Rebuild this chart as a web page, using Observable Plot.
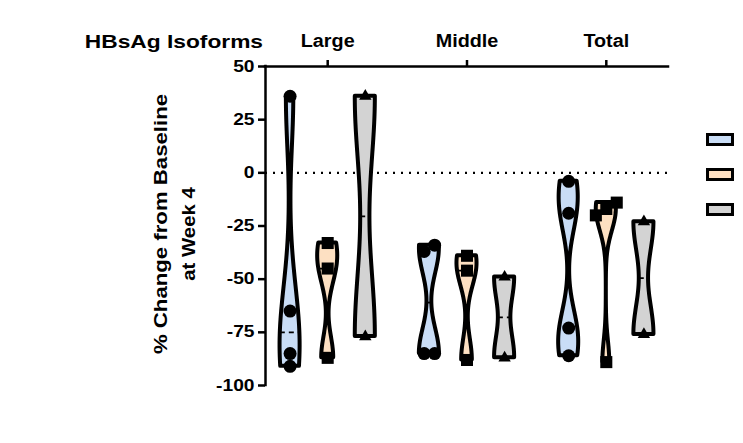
<!DOCTYPE html>
<html><head><meta charset="utf-8">
<script src="https://cdn.jsdelivr.net/npm/d3@7"></script>
<script src="https://cdn.jsdelivr.net/npm/@observablehq/plot@0.6"></script>
<style>
html,body{margin:0;padding:0;background:#fff;}
#wrap{position:relative;width:743px;height:443px;overflow:hidden;}
#overlay{position:absolute;left:0;top:0;pointer-events:none;}
.sw{position:absolute;box-sizing:border-box;border:3px solid #000;width:28px;height:13px;}
</style></head><body><div id="wrap"></div>
<script>
// ---- data ----
const groups = ["Large", "Middle", "Total"];
const largeVals  = [[36, -65, -85, -91], [-33, -45, -87], [36, -77]];
const middleVals = [[-37, -34, -85, -85], [-39, -46, -88], [-49, -87]];
const totalVals  = [[-4, -19, -73, -86], [-14, -17, -20, -89], [-23, -76]];
const bandwidths = [[24, 10, 33], [12, 10, 12.5], [12, 10, 15.5]];
const fills = ["#c9ddf6", "#fde0c2", "#d3d3d3"];
const symbols = ["circle", "square", "triangle"];
const yTicks = [50, 25, 0, -25, -50, -75, -100];
const yDomain = [-100, 50];
const xDomain = [-0.4465, 2.4465];
const yLabel = ["% Change from Baseline", "at Week 4"];
const xTitle = "HBsAg Isoforms";

// ---- layout helpers ----
const seriesStep = 0.27, halfW = 0.072, dodge = 0.075;
const allVals = [largeVals, middleVals, totalVals];
const rows = [], meds = [], pts = [];
allVals.forEach((gv, gi) => gv.forEach((vals, si) => {
  const cx = gi + (si - 1) * seriesStep;
  const h = bandwidths[gi][si];
  const lo = d3.min(vals), hi = d3.max(vals);
  const dens = y => d3.sum(vals, v => Math.exp(-((y - v) ** 2) / (2 * h * h)));
  const N = 150;
  const ys = d3.range(N + 1).map(i => lo + (hi - lo) * i / N);
  const ds = ys.map(dens);
  const m = d3.max(ds);
  ys.forEach((y, i) => rows.push({key: gi + "-" + si, y, x1: cx - halfW * ds[i] / m, x2: cx + halfW * ds[i] / m, fill: fills[si]}));
  const med = d3.median(vals);
  const wm = halfW * dens(med) / m;
  meds.push({y: med, x1: cx - wm, x2: cx + wm});
  const sorted = vals.slice().sort((a, b) => a - b);
  let cluster = [];
  const flush = () => {
    cluster.forEach((v, j) => pts.push({s: si, y: v, x: cx + (j - (cluster.length - 1) / 2) * dodge}));
    cluster = [];
  };
  sorted.forEach(v => {
    if (cluster.length && v - cluster[cluster.length - 1] >= 5) flush();
    cluster.push(v);
  });
  flush();
}));

const font = "'Liberation Sans', Arial, sans-serif";
const chart = Plot.plot({
  width: 743, height: 443,
  marginLeft: 265, marginRight: 75, marginTop: 66, marginBottom: 58,
  style: {fontFamily: font, fontWeight: "bold", color: "black", background: "white", overflow: "visible"},
  x: {domain: xDomain, axis: null},
  y: {domain: yDomain, axis: null},
  color: {type: "identity"},
  marks: [
    Plot.ruleY([0], {stroke: "black", strokeWidth: 2.4, strokeDasharray: "2,6"}),
    Plot.areaX(rows, {y: "y", x1: "x1", x2: "x2", z: "key", fill: "fill", stroke: "black", strokeWidth: 4, strokeLinejoin: "round"}),
    Plot.ruleY(meds, {y: "y", x1: "x1", x2: "x2", stroke: "black", strokeWidth: 1.8, strokeDasharray: "5,4"}),
    Plot.dot(pts.filter(d => d.s === 0), {x: "x", y: "y", symbol: symbols[0], r: 6.5, fill: "black", stroke: null}),
    Plot.dot(pts.filter(d => d.s === 1), {x: "x", y: "y", symbol: symbols[1], r: 6.8, fill: "black", stroke: null}),
    Plot.dot(pts.filter(d => d.s === 2), {x: "x", y: "y", symbol: symbols[2], r: 4.6, fill: "black", stroke: null}),
    Plot.axisY({ticks: yTicks, tickFormat: d => String(d), tickSize: 7, tickPadding: 4, strokeWidth: 2.5, fontSize: 16, fontWeight: "bold", label: null}),
    Plot.axisX({anchor: "top", ticks: [0, 1, 2], tickFormat: i => groups[i], tickSize: 7, tickPadding: 13, strokeWidth: 2.5, fontSize: 18.5, fontWeight: "bold", label: null}),
    Plot.ruleX([xDomain[0]], {stroke: "black", strokeWidth: 2.5, strokeLinecap: "square"}),
    Plot.ruleY([yDomain[1]], {stroke: "black", strokeWidth: 2.5, strokeLinecap: "square"})
  ]
});

// horizontal stretch of text to match reference glyph widths
function stretch(sel, s) {
  chart.querySelectorAll(sel).forEach(t => {
    let x = parseFloat(t.getAttribute("x"));
    if (!isFinite(x) || /em$/.test(t.getAttribute("x") || "")) x = 0;
    const T = t.getAttribute("transform") || "";
    t.setAttribute("transform", `${T} translate(${x},0) scale(${s},1) translate(${-x},0)`);
  });
}
stretch('g[aria-label="y-axis tick label"] text', 1.2);
stretch('g[aria-label="x-axis tick label"] text', 1.07);

const wrap = document.getElementById("wrap");
wrap.appendChild(chart);

// titles overlay
const ns = "http://www.w3.org/2000/svg";
const ov = document.createElementNS(ns, "svg");
ov.setAttribute("id", "overlay");
ov.setAttribute("width", 743); ov.setAttribute("height", 443);
function addText(str, tr, anchor, size) {
  const t = document.createElementNS(ns, "text");
  t.textContent = str;
  t.setAttribute("transform", tr);
  t.setAttribute("text-anchor", anchor);
  t.setAttribute("font-family", font);
  t.setAttribute("font-weight", "bold");
  t.setAttribute("font-size", size);
  t.setAttribute("fill", "black");
  ov.appendChild(t);
}
addText(xTitle, "translate(263,48) scale(1.23,1)", "end", 18.5);
addText(yLabel[0], "translate(167,224) rotate(-90) scale(1.2,1)", "middle", 18.5);
addText(yLabel[1], "translate(195,234) rotate(-90) scale(1.1,1)", "middle", 18.5);
wrap.appendChild(ov);

// legend swatches (no text in reference)
fills.forEach((c, i) => {
  const d = document.createElement("div");
  d.className = "sw";
  d.style.left = "706px";
  d.style.top = (133 + i * 35) + "px";
  d.style.background = c;
  wrap.appendChild(d);
});
</script></body></html>
